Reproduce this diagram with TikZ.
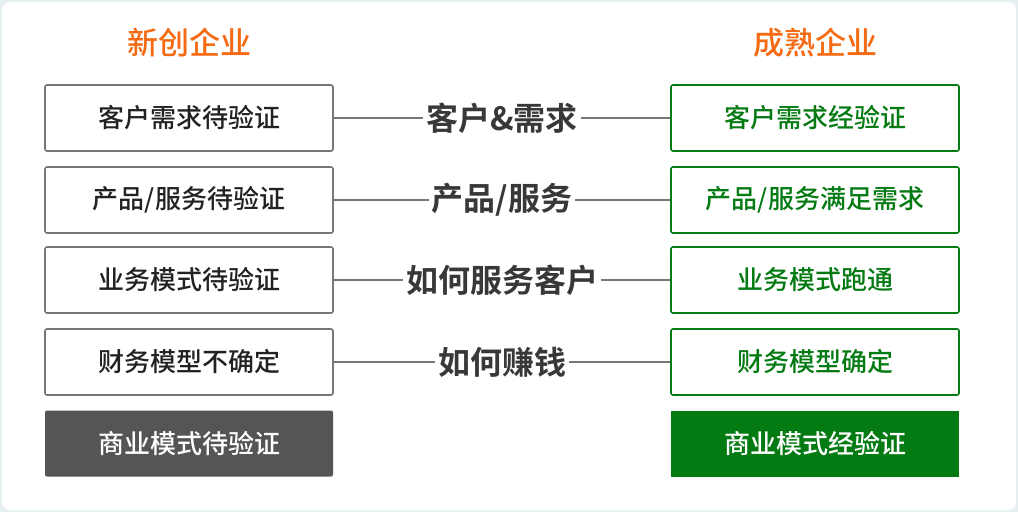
\documentclass[tikz,border=0pt]{standalone}
\usepackage{fontspec}
\setmainfont{Noto Sans CJK SC}[BoldFont={Noto Sans CJK SC Bold}]
\newfontfamily\mediumfont{Noto Sans CJK SC Medium}
\usetikzlibrary{positioning}
\definecolor{corange}{HTML}{F56A12}
\definecolor{cgreen}{HTML}{047A12}
\definecolor{cgrey}{HTML}{777777}
\definecolor{cdark}{HTML}{555555}
\definecolor{ctext}{HTML}{222222}
\definecolor{cframe}{HTML}{E6EFF1}
\tikzset{
  every picture/.style={x=1pt, y=-1pt, line width=1.6pt},
  box/.style={draw=#1, fill=white, rounded corners=2pt, minimum width=288pt, minimum height=66pt, inner sep=0pt, font=\mediumfont\fontsize{26}{30}\selectfont},
  box/.default=cgrey,
  solid box/.style={fill=#1, rounded corners=2pt, minimum width=288pt, minimum height=66pt, inner sep=0pt, text=white, font=\mediumfont\fontsize{26}{30}\selectfont},
  link/.style={draw=cgrey, line width=1.6pt},
  title/.style={font=\mediumfont\fontsize{31}{36}\selectfont, text=corange},
  label/.style={font=\fontsize{32}{36}\selectfont\bfseries, text=ctext!90, inner sep=2pt},
}
\begin{document}
\begin{tikzpicture}
  % frame
  \fill[cframe] (0,0) rectangle (1018,512);
  \fill[white, rounded corners=8pt] (2,2) rectangle (1016,510);
  % column titles
  \node[title] (tl) at (189,43) {新创企业};
  \node[title] (tr) at (815,43) {成熟企业};
  % four compared aspects
  \foreach \n/\y/\l/\m/\r in {1/118/{客户需求待验证}/{客户\&需求}/{客户需求经验证},
                              2/200/{产品/服务待验证}/{产品/服务}/{产品/服务满足需求},
                              3/280/{业务模式待验证}/{如何服务客户}/{业务模式跑通},
                              4/362/{财务模型不确定}/{如何赚钱}/{财务模型确定}}
    { \node[box, text=ctext] (l\n) at (189,\y) {\l};
      \node[box=cgreen, text=cgreen] (r\n) at (815,\y) {\r};
      \node[label] (m\n) at (502,\y) {\m};
      \draw[link] (l\n) -- (m\n);
      \draw[link] (m\n) -- (r\n); }
  % outcome
  \node[solid box=cdark] (l5) at (189,443.5) {商业模式待验证};
  \node[solid box=cgreen, rounded corners=0pt] (r5) at (815,443.5) {商业模式经验证};
\end{tikzpicture}
\end{document}
